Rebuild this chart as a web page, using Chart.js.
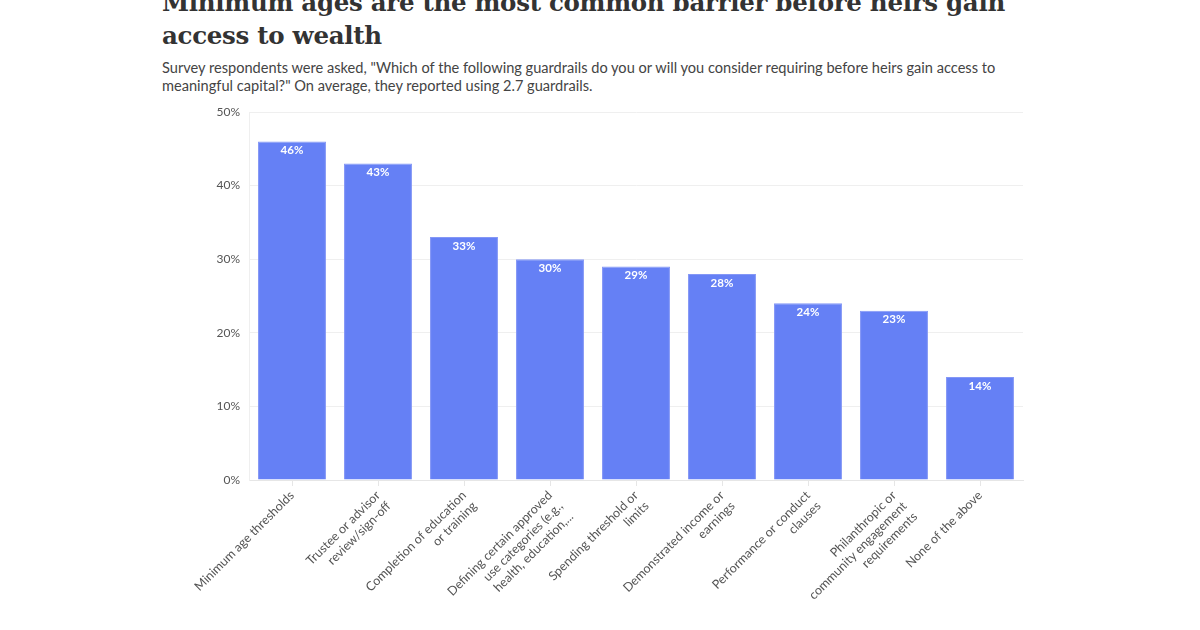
<html>
<head>
<meta name="viewport" content="width=device-width, initial-scale=1">
<style>
  body { margin: 0; background: #fff; width: 1200px; height: 630px; overflow: hidden; position: relative; }
  h1 { position: absolute; left: 162px; top: -14px; margin: 0; font-family: "DejaVu Serif", serif; font-weight: bold; font-size: 24.5px; line-height: 33px; color: #333; letter-spacing: -0.3px; }
  .sub { position: absolute; left: 162px; top: 59px; margin: 0; font-family: Lato, sans-serif; font-size: 14.6px; line-height: 18px; color: #444; }
  #wrap { position: absolute; left: 0; top: 0; width: 1200px; height: 630px; }
</style>
</head>
<body>
<h1>Minimum ages are the most common barrier before heirs gain<br>access to wealth</h1>
<p class="sub">Survey respondents were asked, "Which of the following guardrails do you or will you consider requiring before heirs gain access to<br>meaningful capital?" On average, they reported using 2.7 guardrails.</p>
<div id="wrap"><canvas id="myChart" width="1200" height="630"></canvas></div>
<script src="https://cdn.jsdelivr.net/npm/chart.js"></script>
<script>
const labels = [
  'Minimum age thresholds',
  ['Trustee or advisor', 'review/sign-off'],
  ['Completion of education', 'or training'],
  ['Defining certain approved', 'use categories (e.g.,', 'health, education,...'],
  ['Spending threshold or', 'limits'],
  ['Demonstrated income or', 'earnings'],
  ['Performance or conduct', 'clauses'],
  ['Philanthropic or', 'community engagement', 'requirements'],
  'None of the above'
];
const values = [46, 43, 33, 30, 29, 28, 24, 23, 14];
const yTicks = [0, 10, 20, 30, 40, 50];

// white value labels just inside the top of each bar
const barLabels = {
  id: 'barLabels',
  afterDatasetsDraw(chart) {
    const ctx = chart.ctx;
    const meta = chart.getDatasetMeta(0);
    ctx.save();
    ctx.font = 'bold 11.5px Lato';
    ctx.fillStyle = '#fff';
    ctx.textAlign = 'center';
    ctx.textBaseline = 'middle';
    meta.data.forEach((bar, i) => {
      ctx.fillText(values[i] + '%', bar.x, bar.y + 9);
    });
    ctx.restore();
  }
};

new Chart(document.getElementById('myChart'), {
  type: 'bar',
  data: {
    labels: labels,
    datasets: [{
      data: values,
      backgroundColor: '#6580f5',
      borderColor: '#8497f6',
      borderWidth: 1,
      barPercentage: 0.79,
      categoryPercentage: 1
    }]
  },
  options: {
    responsive: false,
    animation: false,
    layout: { padding: { left: 150, top: 112, right: 177, bottom: 0 } },
    plugins: { legend: { display: false }, tooltip: { enabled: false } },
    scales: {
      x: {
        afterFit(s) { s.height = 150; },
        grid: { drawOnChartArea: false, offset: false, color: '#e6e6e6', tickLength: 6 },
        border: { color: '#e6e6e6' },
        ticks: {
          autoSkip: false, maxRotation: 45, minRotation: 45,
          color: '#555', font: { family: 'Lato', size: 12.5 }, padding: 2
        }
      },
      y: {
        min: 0, max: 50,
        afterFit(s) { s.width = 99; },
        afterBuildTicks(s) { s.ticks = yTicks.map(v => ({ value: v })); },
        grid: { color: '#efefef', drawTicks: false },
        border: { color: '#efefef' },
        ticks: {
          color: '#555', font: { family: 'Lato', size: 12 }, padding: 9,
          callback: v => v + '%'
        }
      }
    }
  },
  plugins: [barLabels]
});
</script>
</body>
</html>
